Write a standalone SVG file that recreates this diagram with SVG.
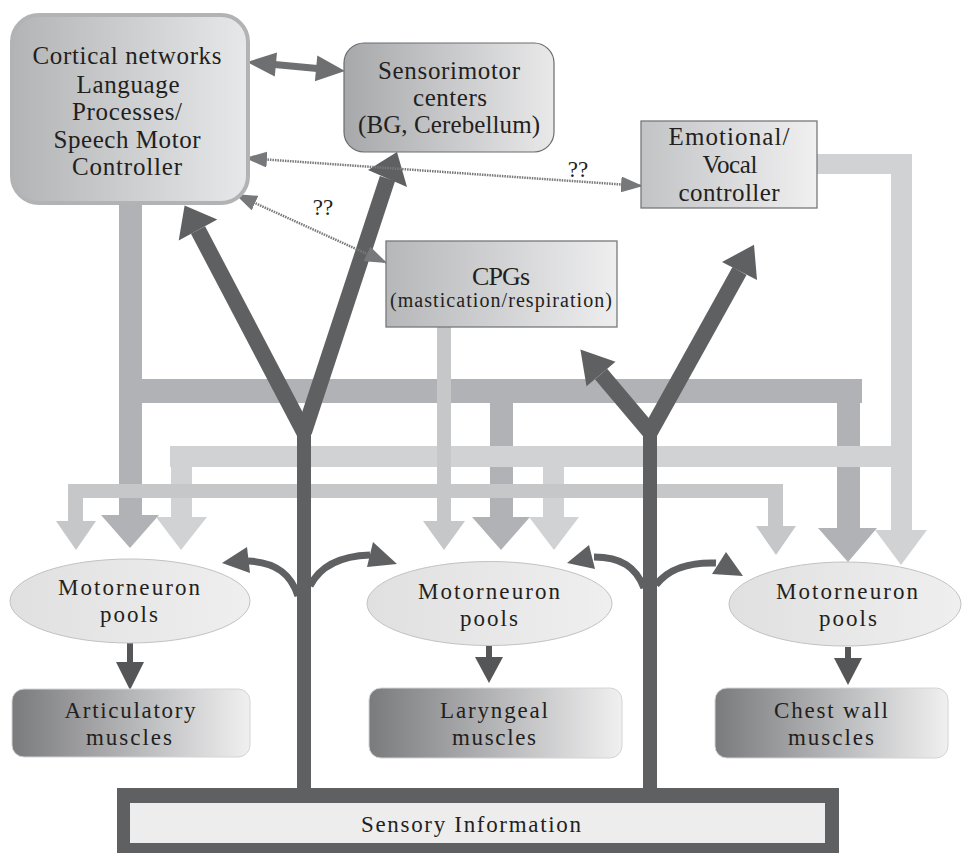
<svg xmlns="http://www.w3.org/2000/svg" width="962" height="853" viewBox="0 0 962 853">
  <defs>
    <linearGradient id="gCort" x1="0" y1="0" x2="1" y2="0">
      <stop offset="0" stop-color="#b3b4b6"/>
      <stop offset="1" stop-color="#e7e8e9"/>
    </linearGradient>
    <linearGradient id="gSens" x1="0" y1="0" x2="1" y2="0">
      <stop offset="0" stop-color="#a7a8aa"/>
      <stop offset="1" stop-color="#e9e9ea"/>
    </linearGradient>
    <linearGradient id="gCpg" x1="0" y1="0" x2="1" y2="0">
      <stop offset="0" stop-color="#b6b7b9"/>
      <stop offset="1" stop-color="#eeeeef"/>
    </linearGradient>
    <linearGradient id="gEmo" x1="0" y1="0" x2="1" y2="0">
      <stop offset="0" stop-color="#c2c3c5"/>
      <stop offset="1" stop-color="#f0f0f1"/>
    </linearGradient>
    <linearGradient id="gMus" x1="0" y1="0" x2="1" y2="0">
      <stop offset="0" stop-color="#7a7b7d"/>
      <stop offset="1" stop-color="#f0f0f1"/>
    </linearGradient>
    <linearGradient id="gPool" x1="0" y1="0" x2="1" y2="0">
      <stop offset="0" stop-color="#e0e0e1"/>
      <stop offset="1" stop-color="#efeff0"/>
    </linearGradient>
    <marker id="dotHead" viewBox="0 0 22 16" refX="22" refY="8" markerWidth="22" markerHeight="16" markerUnits="userSpaceOnUse" orient="auto-start-reverse">
      <path d="M0,0 L22,8 L0,16 Z" fill="#77787a"/>
    </marker>
    <style>
      .lbl { font-family: "Liberation Serif", serif; fill: #231f20; text-anchor: middle; }
      .t25 { font-size: 25px; }
      .t23 { font-size: 23px; }
      .t20 { font-size: 20px; }
      .bar1 { fill: #b1b2b5; }
      .bar2 { fill: #d1d2d4; }
      .bar3 { fill: #c6c7c9; }
      .dark { fill: #5f6062; }
      .branch { stroke: #5f6062; stroke-width: 16; fill: none; }
      .curve { stroke: #5f6062; stroke-width: 7; fill: none; }
      .dotted { stroke: #77787a; stroke-width: 2.5; stroke-dasharray: 1.5 1; fill: none; marker-start: url(#dotHead); marker-end: url(#dotHead); }
      .down { fill: #555658; }
      .pool { fill: url(#gPool); stroke: #c2c2c4; stroke-width: 1; }
      .muscle { fill: url(#gMus); stroke: #d4d4d5; stroke-width: 1; }
    </style>
  </defs>

  <g id="connectors">
    <!-- descending pathway from the cortical controller -->
    <g id="bus-cortical">
      <rect class="bar1" x="119" y="205" width="23" height="312"/>
      <rect class="bar1" x="119" y="379" width="743" height="24"/>
      <rect class="bar1" x="490" y="403" width="23" height="114"/>
      <rect class="bar1" x="837" y="403" width="23" height="125"/>
      <polygon class="bar1" points="101,515 159,515 130,548"/>
      <polygon class="bar1" points="472,517 530,517 501,550"/>
      <polygon class="bar1" points="818,528 877,528 848,562"/>
    </g>
    <!-- descending pathway from the emotional/vocal controller -->
    <g id="bus-emotional">
      <rect class="bar2" x="817" y="154" width="95" height="20"/>
      <rect class="bar2" x="891" y="154" width="21" height="376"/>
      <rect class="bar2" x="170" y="446" width="742" height="21"/>
      <rect class="bar2" x="171" y="467" width="21" height="50"/>
      <rect class="bar2" x="543" y="467" width="21" height="50"/>
      <polygon class="bar2" points="156,517 207,517 181,550"/>
      <polygon class="bar2" points="529,517 579,517 554,550"/>
      <polygon class="bar2" points="875,530 927,530 901,565"/>
    </g>
    <!-- descending pathway from the CPGs -->
    <g id="bus-cpg">
      <rect class="bar3" x="437" y="327" width="14" height="194"/>
      <rect class="bar3" x="68" y="484" width="715" height="14"/>
      <rect class="bar3" x="68" y="498" width="15" height="23"/>
      <rect class="bar3" x="768" y="498" width="15" height="28"/>
      <polygon class="bar3" points="56,521 96,521 76,550"/>
      <polygon class="bar3" points="423,521 465,521 444,550"/>
      <polygon class="bar3" points="756,526 796,526 776,555"/>
    </g>

    <!-- sensory feedback trees -->
    <g id="sensory-left">
      <rect class="dark" x="297" y="418" width="14" height="372"/>
      <line class="branch" x1="304" y1="432" x2="198" y2="230"/>
      <line class="branch" x1="304" y1="432" x2="387.5" y2="178.5"/>
      <polygon class="dark" points="184.6,205.4 217.3,219.5 178.7,240.5"/>
      <polygon class="dark" points="397,152 368,170 407,187"/>
      <path class="curve" d="M298,596 C291,574 276,562 248,561"/>
      <polygon class="dark" points="222,563 247,547 250,573"/>
      <path class="curve" d="M310,586 C320,566 340,556 370,555"/>
      <polygon class="dark" points="397,564 373,542 367,567"/>
    </g>
    <g id="sensory-right">
      <rect class="dark" x="643" y="418" width="14" height="372"/>
      <line class="branch" x1="650" y1="432" x2="601" y2="374"/>
      <line class="branch" x1="650" y1="432" x2="739.5" y2="271"/>
      <polygon class="dark" points="580.4,349.5 615.5,361.7 586.5,386.3"/>
      <polygon class="dark" points="754,244.8 722,262 757,280"/>
      <path class="curve" d="M644,588 C636,567 621,557 594,557"/>
      <polygon class="dark" points="567,563 589,545 595,569"/>
      <path class="curve" d="M656,585 C668,569 690,562 716,563"/>
      <polygon class="dark" points="743,576 726,552 712,574"/>
    </g>

    <!-- cortical <-> sensorimotor loop -->
    <g id="cortex-sensorimotor">
      <line x1="272" y1="64.3" x2="320" y2="68.7" stroke="#6e6f71" stroke-width="7"/>
      <polygon points="247,62 277,52.6 274.8,76.6" fill="#6e6f71"/>
      <polygon points="345,71 317.3,55.5 314.9,81.3" fill="#6e6f71"/>
    </g>

    <!-- uncertain links -->
    <path class="dotted" d="M245,158 L643,186"/>
    <path class="dotted" d="M235,194 L387,263"/>

    <!-- motorneuron pools to muscles -->
    <g id="pool-outputs">
      <rect class="down" x="127" y="641" width="6" height="22"/>
      <polygon class="down" points="116,662 144,662 130,690"/>
      <rect class="down" x="486" y="646" width="6" height="12"/>
      <polygon class="down" points="475,657 503,657 489,683"/>
      <rect class="down" x="845" y="647" width="6" height="12"/>
      <polygon class="down" points="834,658 862,658 848,685"/>
    </g>
  </g>

  <g id="q1"><text class="lbl t23" x="578" y="177">??</text></g>
  <g id="q2"><text class="lbl t23" x="323" y="215">??</text></g>

  <g id="cortical">
    <rect x="12" y="15" width="236" height="188" rx="27" fill="url(#gCort)" stroke="#b2b3b5" stroke-width="4"/>
    <text class="lbl t25" x="127" y="64" textLength="189">Cortical networks</text>
    <text class="lbl t25" x="128" y="93" textLength="103">Language</text>
    <text class="lbl t25" x="127" y="120" textLength="110">Processes/</text>
    <text class="lbl t25" x="127" y="148" textLength="147">Speech Motor</text>
    <text class="lbl t25" x="127" y="175" textLength="110">Controller</text>
  </g>

  <g id="sensorimotor">
    <rect x="344" y="43" width="210" height="109" rx="20" fill="url(#gSens)" stroke="#6b6c6e" stroke-width="1.2"/>
    <text class="lbl t25" x="449" y="79" textLength="142">Sensorimotor</text>
    <text class="lbl t25" x="450" y="106" textLength="74">centers</text>
    <text class="lbl t25" x="449" y="133" textLength="182">(BG, Cerebellum)</text>
  </g>

  <g id="emotional">
    <rect x="641" y="121" width="176" height="87" fill="url(#gEmo)" stroke="#77787a" stroke-width="1.3"/>
    <text class="lbl t25" x="729" y="145" textLength="121">Emotional/</text>
    <text class="lbl t25" x="730" y="173" textLength="55">Vocal</text>
    <text class="lbl t25" x="729" y="201" textLength="101">controller</text>
  </g>

  <g id="cpgs">
    <rect x="386" y="241" width="231" height="86" fill="url(#gCpg)" stroke="#77787a" stroke-width="1.3"/>
    <text class="lbl" x="501" y="285" font-size="26" textLength="58">CPGs</text>
    <text class="lbl t20" x="501" y="307" textLength="222">(mastication/respiration)</text>
  </g>

  <g id="pool-articulatory">
    <ellipse class="pool" cx="130" cy="601" rx="120" ry="42"/>
    <text class="lbl t23" x="129" y="595" textLength="142">Motorneuron</text>
    <text class="lbl t23" x="129" y="622" textLength="58">pools</text>
  </g>
  <g id="pool-laryngeal">
    <ellipse class="pool" cx="489.5" cy="603.5" rx="122.5" ry="42"/>
    <text class="lbl t23" x="489" y="599" textLength="142">Motorneuron</text>
    <text class="lbl t23" x="489" y="626" textLength="58">pools</text>
  </g>
  <g id="pool-chest">
    <ellipse class="pool" cx="845" cy="604" rx="116" ry="42"/>
    <text class="lbl t23" x="847" y="599" textLength="142">Motorneuron</text>
    <text class="lbl t23" x="848" y="626" textLength="58">pools</text>
  </g>

  <g id="muscles-articulatory">
    <rect class="muscle" x="12" y="689" width="238" height="68" rx="12"/>
    <text class="lbl t23" x="130" y="718" textLength="131">Articulatory</text>
    <text class="lbl t23" x="129" y="745" textLength="86">muscles</text>
  </g>
  <g id="muscles-laryngeal">
    <rect class="muscle" x="369" y="688" width="253" height="70" rx="12"/>
    <text class="lbl t23" x="494" y="718" textLength="108">Laryngeal</text>
    <text class="lbl t23" x="494" y="745" textLength="84">muscles</text>
  </g>
  <g id="muscles-chest">
    <rect class="muscle" x="715" y="688" width="233" height="70" rx="12"/>
    <text class="lbl t23" x="831" y="718" textLength="114">Chest wall</text>
    <text class="lbl t23" x="831" y="745" textLength="86">muscles</text>
  </g>

  <g id="sensory-information">
    <rect class="dark" x="117" y="788" width="722" height="65"/>
    <rect x="130" y="803" width="695" height="40" fill="#ededee"/>
    <text class="lbl" x="471" y="832" font-size="23" textLength="220">Sensory Information</text>
  </g>
</svg>
